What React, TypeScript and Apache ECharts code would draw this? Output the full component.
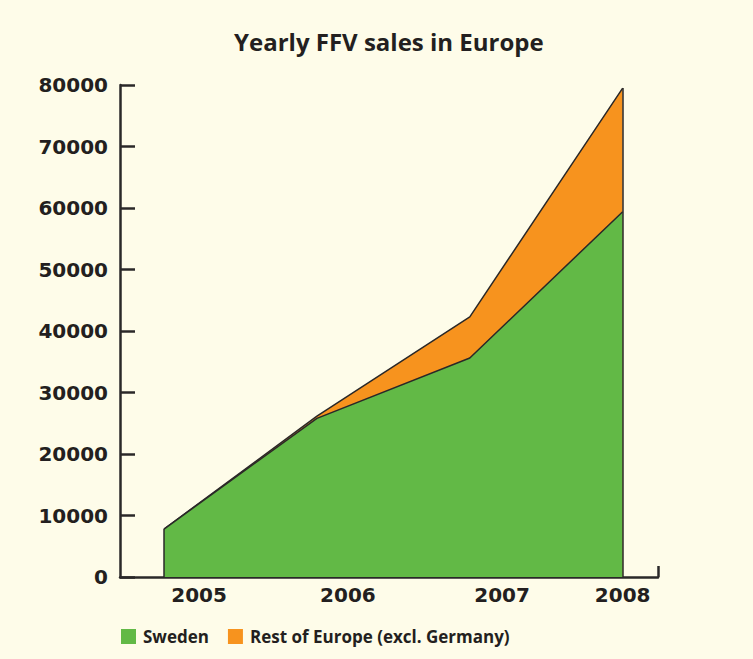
import React, { useEffect, useRef } from "react";
import * as echarts from "echarts";

const years = ["2005", "2006", "2007", "2008"];
const sweden = [7800, 25800, 35600, 59400];
const restOfEurope = [0, 350, 6700, 20100];
const yTicks = [0, 10000, 20000, 30000, 40000, 50000, 60000, 70000, 80000];

// x-axis layout (in units of one year step, data at 0..3)
const xMin = -0.288;
const xMax = 3.231;
const bandTicks = [0.706, 1.707, 2.708, xMax];
const labelPositions = [0.229, 1.203, 2.211, 3.0];

const BG = "#fefce9";
const GREEN = "#62b946";
const ORANGE = "#f7931e";
const INK = "#2a2828";
const TEXT = "#231f20";

export default function App() {
  const ref = useRef<HTMLDivElement>(null);
  useEffect(() => {
    if (!ref.current) return;
    const chart = echarts.init(ref.current, null, { renderer: "svg" });
    // cumulative top of the stacked area
    const total = sweden.map((v, i) => v + restOfEurope[i]);
    const last = years.length - 1;
    chart.setOption({
      animation: false,
      backgroundColor: BG,
      title: {
        text: "Yearly FFV sales in Europe",
        left: 229,
        top: 24,
        textStyle: { fontFamily: "Open Sans", fontWeight: "bold", fontSize: 24, color: TEXT },
      },
      legend: {
        left: 116,
        top: 623,
        itemWidth: 15,
        itemHeight: 15,
        itemGap: 19,
        icon: "rect",
        textStyle: { fontFamily: "Open Sans", fontWeight: "bold", fontSize: 17, color: TEXT, padding: [0, 0, 0, 2] },
        data: [
          { name: "Sweden", itemStyle: { color: GREEN, borderWidth: 0 } },
          { name: "Rest of Europe (excl. Germany)", itemStyle: { color: ORANGE, borderWidth: 0 } },
        ],
      },
      grid: { left: 120, right: 95, top: 85, bottom: 82, containLabel: false },
      xAxis: {
        type: "value",
        min: xMin,
        max: xMax,
        splitLine: { show: false },
        axisLine: { show: true, onZero: false, lineStyle: { color: INK, width: 2.5 } },
        axisTick: { show: true, inside: true, length: 11, customValues: bandTicks, lineStyle: { color: INK, width: 2.5 } },
        axisLabel: {
          customValues: labelPositions,
          formatter: (v: number) => {
            const idx = labelPositions.findIndex((p) => Math.abs(p - v) < 1e-6);
            return idx >= 0 ? years[idx] : "";
          },
          margin: 8,
          fontFamily: "DejaVu Sans",
          fontWeight: "bold",
          fontSize: 20,
          color: TEXT,
        },
      },
      yAxis: {
        type: "value",
        min: 0,
        max: 80000,
        interval: 10000,
        splitLine: { show: false },
        axisLine: { show: true, onZero: false, lineStyle: { color: INK, width: 2.5 } },
        axisTick: { show: true, inside: true, length: 15, lineStyle: { color: INK, width: 2.5 } },
        axisLabel: {
          margin: 12,
          fontFamily: "DejaVu Sans",
          fontWeight: "bold",
          fontSize: 20,
          color: TEXT,
          formatter: (v: number) => (yTicks.includes(v) ? String(v) : ""),
        },
      },
      series: [
        {
          name: "Sweden",
          type: "line",
          symbol: "none",
          color: GREEN,
          lineStyle: { color: INK, width: 1.5 },
          areaStyle: { color: GREEN, opacity: 1 },
          data: sweden.map((v, i) => [i, v]),
          z: 3,
        },
        {
          name: "Rest of Europe (excl. Germany)",
          type: "line",
          symbol: "none",
          color: ORANGE,
          lineStyle: { color: INK, width: 1.5 },
          areaStyle: { color: ORANGE, opacity: 1 },
          data: total.map((v, i) => [i, v]),
          z: 2,
          markLine: {
            silent: true,
            symbol: "none",
            label: { show: false },
            z: 4,
            lineStyle: { color: INK, width: 1.5, type: "solid" },
            data: [
              [{ coord: [0, 0] }, { coord: [0, total[0]] }],
              [{ coord: [last, 0] }, { coord: [last, total[last]] }],
            ],
          },
        },
      ],
    });
    return () => chart.dispose();
  }, []);
  return (
    <div
      ref={ref}
      style={{ position: "fixed", left: 0, top: 0, width: 753, height: 659, background: BG }}
    />
  );
}
